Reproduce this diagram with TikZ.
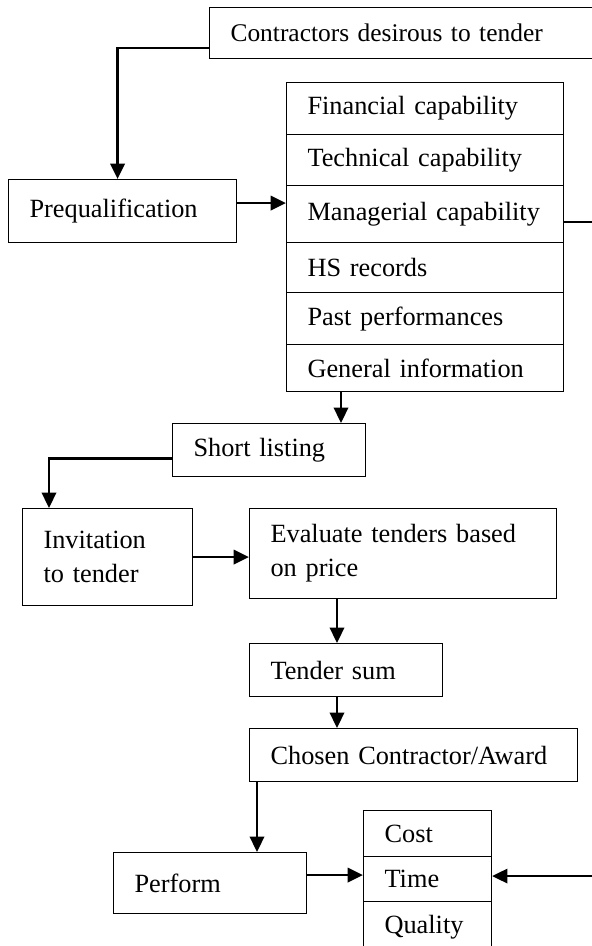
\documentclass[tikz,border=0pt]{standalone}
\usepackage{fontspec}
\setmainfont{Liberation Serif}
\usetikzlibrary{arrows.meta,calc}

\newcommand{\pxUnit}{0.456pt}
\newcommand{\textInset}{21}

\begin{document}
\begin{tikzpicture}[x=\pxUnit,y=-\pxUnit]
\tikzstyle{flowBox}=[rectangle,draw,line width=0.5pt,anchor=north west,align=left,inner xsep=\textInset*\pxUnit,inner ysep=0pt,font=\fontsize{12}{15.5}\selectfont]
\tikzstyle{flowEdge}=[-{Triangle[length=7pt,width=6.5pt]},line width=1.2pt]
\useasboundingbox (0,0) rectangle (592,946);
\clip (0,0) rectangle (592,946);
% entry and prequalification
\node[flowBox,font=\fontsize{11.6}{15}\selectfont,minimum height=51*\pxUnit,text width=(400-2*\textInset)*\pxUnit] (contractors) at (209,7) {Contractors desirous to tender};
\node[flowBox,minimum height=63*\pxUnit,text width=(228-2*\textInset)*\pxUnit] (prequal) at (8,179) {Prequalification};
% capability stack
\node[flowBox,minimum height=52*\pxUnit,text width=(277-2*\textInset)*\pxUnit] (cap-0) at (286,82) {Financial capability};
\node[flowBox,minimum height=51*\pxUnit,text width=(277-2*\textInset)*\pxUnit] (cap-1) at (286,134) {Technical capability};
\node[flowBox,minimum height=57*\pxUnit,text width=(277-2*\textInset)*\pxUnit] (cap-2) at (286,185) {Managerial capability};
\node[flowBox,minimum height=50*\pxUnit,text width=(277-2*\textInset)*\pxUnit] (cap-3) at (286,242) {HS records};
\node[flowBox,minimum height=52*\pxUnit,text width=(277-2*\textInset)*\pxUnit] (cap-4) at (286,292) {Past performances};
\node[flowBox,minimum height=47*\pxUnit,text width=(277-2*\textInset)*\pxUnit] (cap-5) at (286,344) {General information};
% tendering steps
\node[flowBox,minimum height=53*\pxUnit,text width=(193-2*\textInset)*\pxUnit] (shortlist) at (172,423) {Short listing};
\node[flowBox,minimum height=97*\pxUnit,text width=(170-2*\textInset)*\pxUnit] (invite) at (22,508) {Invitation\\to tender};
\node[flowBox,minimum height=90*\pxUnit,text width=(307-2*\textInset)*\pxUnit] (evaluate) at (249,508) {Evaluate tenders based\\on price};
\node[flowBox,minimum height=53*\pxUnit,text width=(193-2*\textInset)*\pxUnit] (tendersum) at (249,643) {Tender sum};
\node[flowBox,minimum height=53*\pxUnit,text width=(328-2*\textInset)*\pxUnit] (award) at (249,728) {Chosen Contractor/Award};
\node[flowBox,minimum height=61*\pxUnit,text width=(193-2*\textInset)*\pxUnit] (perform) at (113,852) {Perform};
% outcome stack
\node[flowBox,minimum height=46*\pxUnit,text width=(128-2*\textInset)*\pxUnit] (out-0) at (363,810) {Cost};
\node[flowBox,minimum height=45*\pxUnit,text width=(128-2*\textInset)*\pxUnit] (out-1) at (363,856) {Time};
\node[flowBox,minimum height=52*\pxUnit,text width=(128-2*\textInset)*\pxUnit] (out-2) at (363,901) {Quality};
% connectors
\draw[flowEdge] ($(contractors.south west)+(0,-11)$) -| ($(prequal.north)+(-5,0)$);
\draw[flowEdge] ($(prequal.east)+(0,-8)$) coordinate (prequalOut) -- (prequalOut -| cap-2.west);
\draw[flowEdge] ($(cap-2.east)+(0,8)$) -- ++(40,0) |- ($(out-1.east)+(0,-3)$);
\draw[flowEdge] ($(cap-5.south west)+(55,0)$) coordinate (capOut) -- (capOut |- shortlist.north);
\draw[flowEdge] ($(shortlist.west)+(0,8.5)$) -| ($(invite.north west)+(27,0)$);
\draw[flowEdge] (invite.east) -- (invite.east -| evaluate.west);
\draw[flowEdge] ($(evaluate.south west)+(88,0)$) -- ($(tendersum.north west)+(88,0)$);
\draw[flowEdge] ($(tendersum.south west)+(88,0)$) -- ($(award.north west)+(88,0)$);
\draw[flowEdge] ($(award.south west)+(8,0)$) coordinate (awardOut) -- (awardOut |- perform.north);
\draw[flowEdge] ($(perform.east)+(0,-8)$) coordinate (performOut) -- (performOut -| out-1.west);
\end{tikzpicture}
\end{document}
